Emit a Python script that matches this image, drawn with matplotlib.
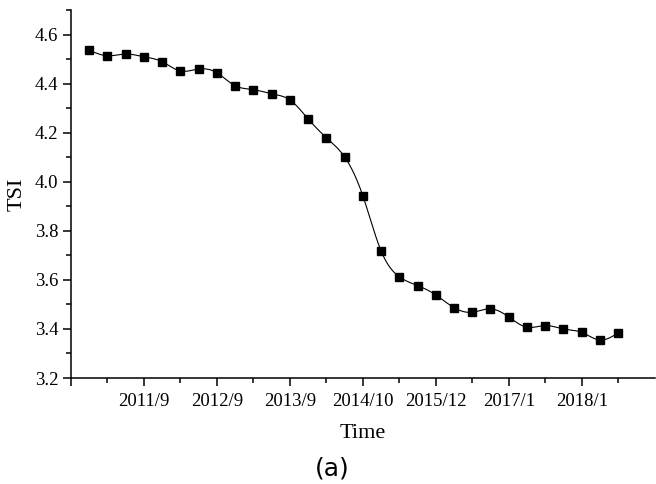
import numpy as np
import matplotlib
matplotlib.use("Agg")
import matplotlib.pyplot as plt
from matplotlib.ticker import MultipleLocator, FixedLocator

# data
idx = np.arange(1, 31)
tsi = [4.537, 4.514, 4.521, 4.510, 4.490, 4.452, 4.460, 4.445, 4.392, 4.376,
       4.359, 4.334, 4.257, 4.180, 4.102, 3.944, 3.719, 3.613, 3.577, 3.539,
       3.487, 3.468, 3.482, 3.449, 3.407, 3.414, 3.400, 3.386, 3.355, 3.384]
tick_pos = [4, 8, 12, 16, 20, 24, 28]
tick_labels = ['2011/9', '2012/9', '2013/9', '2014/10', '2015/12', '2017/1', '2018/1']


def natural_spline(x, y, n=20):
    # natural cubic spline through the points, only for drawing the curve
    x = np.asarray(x, float)
    y = np.asarray(y, float)
    m = len(x)
    h = np.diff(x)
    A = np.zeros((m, m))
    b = np.zeros(m)
    A[0, 0] = A[-1, -1] = 1
    for i in range(1, m - 1):
        A[i, i - 1] = h[i - 1]
        A[i, i] = 2 * (h[i - 1] + h[i])
        A[i, i + 1] = h[i]
        b[i] = 6 * ((y[i + 1] - y[i]) / h[i] - (y[i] - y[i - 1]) / h[i - 1])
    M = np.linalg.solve(A, b)
    xs, ys = [], []
    for i in range(m - 1):
        t = np.linspace(x[i], x[i + 1], n, endpoint=False)
        a = x[i + 1] - t
        c = t - x[i]
        s = (M[i] * a ** 3 + M[i + 1] * c ** 3) / (6 * h[i]) \
            + (y[i] / h[i] - M[i] * h[i] / 6) * a \
            + (y[i + 1] / h[i] - M[i + 1] * h[i] / 6) * c
        xs.append(t)
        ys.append(s)
    xs.append([x[-1]])
    ys.append([y[-1]])
    return np.concatenate(xs), np.concatenate(ys)


plt.rcParams['font.family'] = ['Liberation Serif', 'DejaVu Serif']

fig = plt.figure(figsize=(6.56, 4.84), dpi=100)
ax = fig.add_axes([0.108, 0.219, 0.890, 0.760])

sx, sy = natural_spline(idx, tsi)
ax.plot(sx, sy, color='black', lw=0.8, zorder=2)
ax.plot(idx, tsi, ls='none', marker='s', ms=6, color='black', zorder=3)

ax.set_xlim(0, 32)
ax.set_ylim(3.2, 4.7)
ax.yaxis.set_major_locator(FixedLocator([3.2, 3.4, 3.6, 3.8, 4.0, 4.2, 4.4, 4.6]))
ax.yaxis.set_minor_locator(MultipleLocator(0.1))
ax.set_yticklabels(['3.2', '3.4', '3.6', '3.8', '4.0', '4.2', '4.4', '4.6'])
ax.xaxis.set_major_locator(FixedLocator([0] + tick_pos))
ax.set_xticklabels([''] + tick_labels)
ax.xaxis.set_minor_locator(FixedLocator([2, 6, 10, 14, 18, 22, 26, 30]))

for s in ['top', 'right']:
    ax.spines[s].set_visible(False)
for s in ['left', 'bottom']:
    ax.spines[s].set_linewidth(1.1)

ax.tick_params(which='major', direction='out', length=6, width=1.1, labelsize=13.5, pad=3)
ax.tick_params(which='minor', direction='out', length=3.5, width=1.1)
ax.tick_params(axis='x', which='major', pad=5)

ax.set_xlabel('Time', fontsize=16, labelpad=10)
ax.set_ylabel('TSI', fontsize=16, labelpad=6)

fig.text(0.506, 0.033, '(a)', fontsize=18, family='DejaVu Sans', ha='center', va='center')

fig.savefig('out.png', dpi=100)
